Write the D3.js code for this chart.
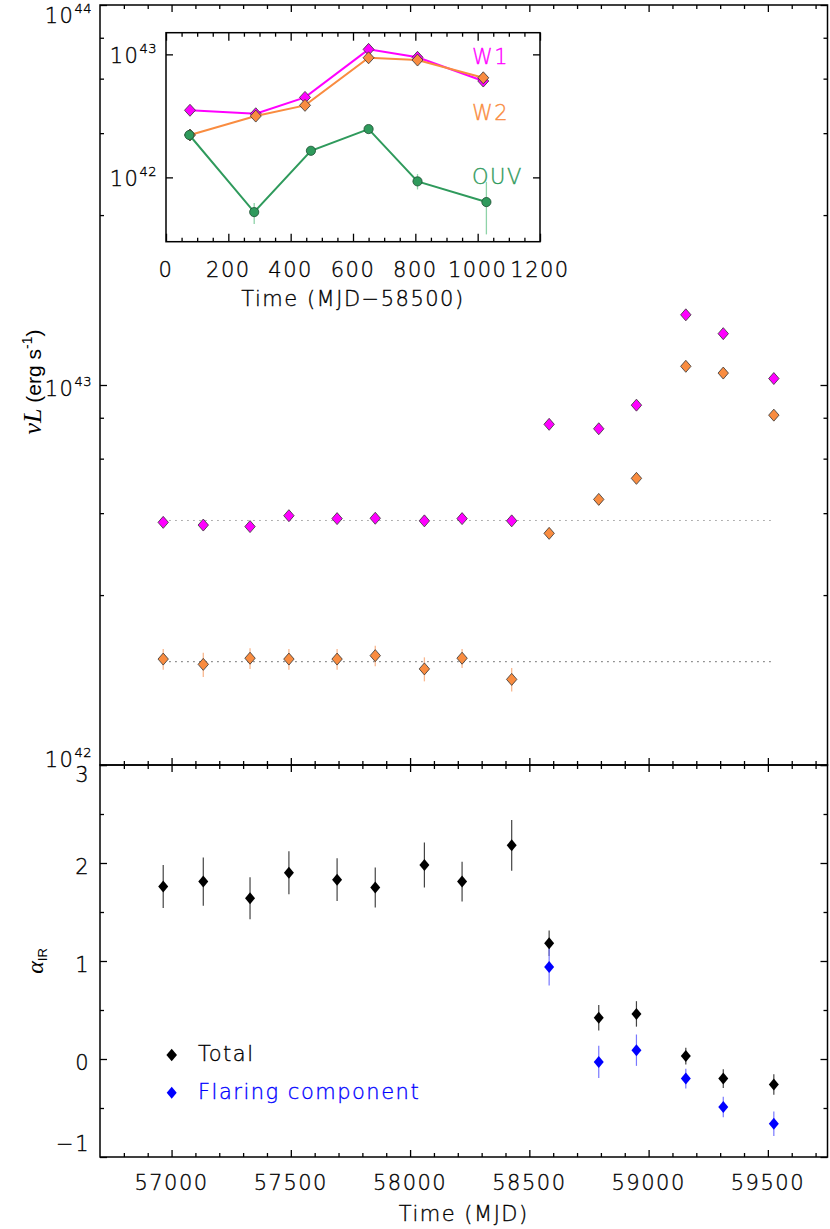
<!DOCTYPE html>
<html><head><meta charset="utf-8">
<script src="https://cdn.jsdelivr.net/npm/d3@7"></script>
<style>
body{margin:0;background:#fff;}
svg{display:block;}
text{font-family:"DejaVu Sans",sans-serif;font-weight:200;fill:#000;stroke:#000;stroke-width:0.35px;letter-spacing:1.5px;}
</style></head><body>
<svg id="chart" width="830" height="1229"></svg>
<script>
// ---------------- data ----------------
const mjd = [56965, 57133, 57329, 57492, 57694, 57854, 58060, 58218, 58426, 58583, 58791, 58949, 59156, 59313, 59525];
const w1Lum = [4.35, 4.28, 4.24, 4.53, 4.45, 4.46, 4.39, 4.45, 4.39, 7.88, 7.67, 8.85, 15.3, 13.65, 10.4];   // 1e42 erg/s
const w2Lum = [1.90, 1.84, 1.91, 1.90, 1.90, 1.94, 1.79, 1.91, 1.68, 4.07, 5.00, 5.68, 11.2, 10.75, 8.33];   // 1e42 erg/s
const w2Err = [0.12, 0.135, 0.12, 0.12, 0.12, 0.12, 0.13, 0.11, 0.12, 0, 0, 0, 0, 0, 0];
const w1Quiescent = 4.40;
const w2Quiescent = 1.87;

const alphaTotal = [1.76, 1.81, 1.64, 1.90, 1.83, 1.75, 1.98, 1.81, 2.18, 1.18, 0.42, 0.46, 0.03, -0.20, -0.26];
const alphaTotalErr = [0.22, 0.245, 0.215, 0.22, 0.218, 0.205, 0.23, 0.204, 0.26, 0.13, 0.13, 0.13, 0.085, 0.095, 0.105];
const flareMjd = [58583, 58791, 58949, 59156, 59313, 59525];
const alphaFlare = [0.94, -0.03, 0.09, -0.20, -0.49, -0.66];
const alphaFlareErr = [0.19, 0.165, 0.16, 0.10, 0.105, 0.125];

const insetT = [77, 288, 446, 650, 807, 1018];          // MJD-58500
const insetW1 = [3.51, 3.29, 4.47, 10.98, 9.46, 6.07];   // 1e42
const insetW2 = [2.21, 3.15, 3.85, 9.38, 8.99, 6.45];
const ouvT = [75, 283, 465, 650, 807, 1028];
const ouvLum = [2.21, 0.522, 1.645, 2.47, 0.928, 0.63];
const ouvErrLo = [0.03, 0.105, 0.03, 0.03, 0.13, 0.286];
const ouvErrHi = [0.03, 0.098, 0.03, 0.03, 0.136, 0.29];

const xMajor = [57000, 57500, 58000, 58500, 59000, 59500];
const alphaMajor = [-1, 0, 1, 2, 3];
const lumMajor = [1e42, 1e43, 1e44];
const insetXMajor = [0, 200, 400, 600, 800, 1000, 1200];
const insetYMajor = [1e42, 1e43];

// ---------------- style ----------------
const cW1 = "#ff00ff", cW2 = "#f98c40", cOUV = "#2f9a5c";
const cW2Err = "#f9b890", cOUVErr = "#8fd3a8";
const cBlue = "#0000ff", cBlueErr = "#7878ff";

const svg = d3.select("#chart");
const M = {x0: 100, x1: 827.5, y0: 5, y1: 765};
const B = {y0: 765, y1: 1157};
const I = {x0: 166, x1: 540, y0: 32.7, y1: 241.7};

const x = d3.scaleLinear().domain([56700, 59750]).range([M.x0, M.x1]);
const yL = d3.scaleLog().domain([1e42, 1e44]).range([M.y1, M.y0]);
const yA = d3.scaleLinear().domain([-1, 3]).range([B.y1, B.y0]);
const xi = d3.scaleLinear().domain([0, 1200]).range([I.x0, I.x1]);
const yi = d3.scaleLog().domain([3e41, 1.5e43]).range([I.y1, I.y0]);

const diamond = (w, h) => `M0,${-h}L${w},0L0,${h}L${-w},0Z`;

function ticks(axisFn, scale, values, size, tx, ty) {
  const g = svg.append("g").attr("transform", `translate(${tx},${ty})`)
    .call(axisFn(scale).tickValues(values).tickSizeInner(-size).tickSizeOuter(0).tickFormat(() => ""));
  g.select(".domain").remove();
  g.selectAll(".tick line").attr("stroke", "#000").attr("stroke-width", 1.3);
}
function range(a, b, s) { const r = []; for (let v = a; v <= b + 1e-9; v += s) r.push(+v.toFixed(6)); return r; }

const xMinor = range(56800, 59700, 100).filter(v => v % 500 !== 0);
const lumMinor = [42, 43].flatMap(e => [2.8, 4.6, 6.4, 8.2].map(m => m * Math.pow(10, e)));
const alphaMinor = [-0.5, 0.5, 1.5, 2.5];
const insetXMinor = range(50, 1150, 50).filter(v => v % 200 !== 0);

function colored(sel, c) { return sel.style("fill", c).style("stroke", c); }
function plain(sel) { return sel.style("stroke", "none").style("font-weight", "normal").style("letter-spacing", "0px"); }

// ---------------- main panel ----------------
svg.append("line").attr("x1", x(mjd[0])).attr("x2", x(mjd[mjd.length-1]))
  .attr("y1", yL(w1Quiescent*1e42)).attr("y2", yL(w1Quiescent*1e42))
  .attr("stroke", "#999").attr("stroke-width", 1).attr("stroke-dasharray", "1.5,4.5");
svg.append("line").attr("x1", x(mjd[0])).attr("x2", x(mjd[mjd.length-1]))
  .attr("y1", yL(w2Quiescent*1e42)).attr("y2", yL(w2Quiescent*1e42))
  .attr("stroke", "#555").attr("stroke-width", 1).attr("stroke-dasharray", "1.5,4.5");

svg.append("g").selectAll("line").data(mjd.map((t, i) => ({t, v: w2Lum[i], e: w2Err[i]})).filter(d => d.e > 0))
  .join("line").attr("x1", d => x(d.t)).attr("x2", d => x(d.t))
  .attr("y1", d => yL((d.v - d.e)*1e42)).attr("y2", d => yL((d.v + d.e)*1e42))
  .attr("stroke", cW2Err).attr("stroke-width", 1.3);

svg.append("g").selectAll("path").data(mjd.map((t, i) => ({t, v: w1Lum[i]})))
  .join("path").attr("d", diamond(5.2, 6)).attr("transform", d => `translate(${x(d.t)},${yL(d.v*1e42)})`)
  .attr("fill", cW1).attr("stroke", "#333").attr("stroke-width", 0.8);
svg.append("g").selectAll("path").data(mjd.map((t, i) => ({t, v: w2Lum[i]})))
  .join("path").attr("d", diamond(5.2, 6)).attr("transform", d => `translate(${x(d.t)},${yL(d.v*1e42)})`)
  .attr("fill", cW2).attr("stroke", "#333").attr("stroke-width", 0.8);

ticks(d3.axisBottom, x, xMajor, 7, 0, M.y1);
ticks(d3.axisBottom, x, xMinor, 4, 0, M.y1);
ticks(d3.axisTop, x, xMajor, 7, 0, M.y0);
ticks(d3.axisTop, x, xMinor, 4, 0, M.y0);
ticks(d3.axisLeft, yL, lumMajor, 7, M.x0, 0);
ticks(d3.axisLeft, yL, lumMinor, 4, M.x0, 0);
ticks(d3.axisRight, yL, lumMajor, 7, M.x1, 0);
ticks(d3.axisRight, yL, lumMinor, 4, M.x1, 0);
svg.append("rect").attr("x", M.x0).attr("y", M.y0).attr("width", M.x1 - M.x0).attr("height", M.y1 - M.y0)
  .attr("fill", "none").attr("stroke", "#000").attr("stroke-width", 1.5);

lumMajor.forEach(v => {
  const by = Math.max(22.5, Math.min(767, yL(v) + 11));
  const t = svg.append("text").attr("x", 92).attr("y", by).attr("text-anchor", "end").style("font-size", "21px");
  t.append("tspan").text("10");
  t.append("tspan").attr("dy", -10).style("font-size", "13px").style("letter-spacing", "0.5px").text(Math.round(Math.log10(v)));
});

{
  const t = plain(svg.append("text").attr("transform", `translate(41,382) rotate(-90)`).attr("text-anchor", "middle"));
  t.append("tspan").style("font-family", "'Liberation Serif',serif").style("font-style", "italic").style("font-size", "26px").text("νL");
  t.append("tspan").style("font-family", "'Liberation Sans',sans-serif").style("font-size", "21px").text(" (erg s");
  t.append("tspan").attr("dy", -9).style("font-family", "'Liberation Sans',sans-serif").style("font-size", "14px").text("-1");
  t.append("tspan").attr("dy", 9).style("font-family", "'Liberation Sans',sans-serif").style("font-size", "21px").text(")");
}

// ---------------- inset ----------------
svg.append("rect").attr("x", I.x0).attr("y", I.y0).attr("width", I.x1 - I.x0).attr("height", I.y1 - I.y0)
  .attr("fill", "#fff").attr("stroke", "none");
const lineI = d3.line().x(d => xi(d.t)).y(d => yi(d.v*1e42));
const w1Pts = insetT.map((t, i) => ({t, v: insetW1[i]}));
const w2Pts = insetT.map((t, i) => ({t, v: insetW2[i]}));
const ouvPts = ouvT.map((t, i) => ({t, v: ouvLum[i], lo: ouvErrLo[i], hi: ouvErrHi[i]}));

svg.append("path").datum(w1Pts).attr("d", lineI).attr("fill", "none").attr("stroke", cW1).attr("stroke-width", 2);
svg.append("g").selectAll("path").data(w1Pts).join("path").attr("d", diamond(5.5, 6))
  .attr("transform", d => `translate(${xi(d.t)},${yi(d.v*1e42)})`).attr("fill", cW1).attr("stroke", "#333").attr("stroke-width", 0.8);
svg.append("path").datum(w2Pts).attr("d", lineI).attr("fill", "none").attr("stroke", cW2).attr("stroke-width", 2);
svg.append("g").selectAll("path").data(w2Pts).join("path").attr("d", diamond(5.5, 6))
  .attr("transform", d => `translate(${xi(d.t)},${yi(d.v*1e42)})`).attr("fill", cW2).attr("stroke", "#333").attr("stroke-width", 0.8);
svg.append("g").selectAll("line").data(ouvPts).join("line")
  .attr("x1", d => xi(d.t)).attr("x2", d => xi(d.t))
  .attr("y1", d => yi((d.v - d.lo)*1e42)).attr("y2", d => yi((d.v + d.hi)*1e42))
  .attr("stroke", cOUVErr).attr("stroke-width", 1.3);
svg.append("path").datum(ouvPts).attr("d", lineI).attr("fill", "none").attr("stroke", cOUV).attr("stroke-width", 2);
svg.append("g").selectAll("circle").data(ouvPts).join("circle").attr("r", 4.6)
  .attr("cx", d => xi(d.t)).attr("cy", d => yi(d.v*1e42)).attr("fill", cOUV).attr("stroke", "#1a4d30").attr("stroke-width", 0.8);

ticks(d3.axisBottom, xi, insetXMajor, 8, 0, I.y1);
ticks(d3.axisBottom, xi, insetXMinor, 4, 0, I.y1);
ticks(d3.axisTop, xi, insetXMajor, 8, 0, I.y0);
ticks(d3.axisTop, xi, insetXMinor, 4, 0, I.y0);
ticks(d3.axisLeft, yi, insetYMajor, 7, I.x0, 0);
ticks(d3.axisRight, yi, insetYMajor, 7, I.x1, 0);
svg.append("rect").attr("x", I.x0).attr("y", I.y0).attr("width", I.x1 - I.x0).attr("height", I.y1 - I.y0)
  .attr("fill", "none").attr("stroke", "#000").attr("stroke-width", 1.5);

insetXMajor.forEach(v => {
  svg.append("text").attr("x", xi(v)).attr("y", 276.7).attr("text-anchor", "middle").style("font-size", "21px").text(v);
});
insetYMajor.forEach(v => {
  const t = svg.append("text").attr("x", 157).attr("y", yi(v) + 9).attr("text-anchor", "end").style("font-size", "21px");
  t.append("tspan").text("10");
  t.append("tspan").attr("dy", -10).style("font-size", "13px").style("letter-spacing", "0.5px").text(Math.round(Math.log10(v)));
});
svg.append("text").attr("x", (I.x0 + I.x1)/2).attr("y", 306).attr("text-anchor", "middle").style("font-size", "21px").text("Time (MJD\u221258500)");
colored(svg.append("text").attr("x", 472).attr("y", 64).style("font-size", "21px"), cW1).text("W1");
colored(svg.append("text").attr("x", 472).attr("y", 120).style("font-size", "21px"), cW2).text("W2");
colored(svg.append("text").attr("x", 472).attr("y", 184).style("font-size", "21px"), cOUV).text("OUV");

// ---------------- bottom panel ----------------
const totPts = mjd.map((t, i) => ({t, v: alphaTotal[i], e: alphaTotalErr[i]}));
const flPts = flareMjd.map((t, i) => ({t, v: alphaFlare[i], e: alphaFlareErr[i]}));
svg.append("g").selectAll("line").data(totPts).join("line")
  .attr("x1", d => x(d.t)).attr("x2", d => x(d.t)).attr("y1", d => yA(d.v - d.e)).attr("y2", d => yA(d.v + d.e))
  .attr("stroke", "#444").attr("stroke-width", 1.2);
svg.append("g").selectAll("line").data(flPts).join("line")
  .attr("x1", d => x(d.t)).attr("x2", d => x(d.t)).attr("y1", d => yA(d.v - d.e)).attr("y2", d => yA(d.v + d.e))
  .attr("stroke", cBlueErr).attr("stroke-width", 1.2);
svg.append("g").selectAll("path").data(totPts).join("path").attr("d", diamond(5, 6))
  .attr("transform", d => `translate(${x(d.t)},${yA(d.v)})`).attr("fill", "#000");
svg.append("g").selectAll("path").data(flPts).join("path").attr("d", diamond(5, 6))
  .attr("transform", d => `translate(${x(d.t)},${yA(d.v)})`).attr("fill", cBlue);

ticks(d3.axisBottom, x, xMajor, 7, 0, B.y1);
ticks(d3.axisBottom, x, xMinor, 4, 0, B.y1);
ticks(d3.axisTop, x, xMajor, 7, 0, B.y0);
ticks(d3.axisTop, x, xMinor, 4, 0, B.y0);
ticks(d3.axisLeft, yA, alphaMajor, 7, M.x0, 0);
ticks(d3.axisLeft, yA, alphaMinor, 4, M.x0, 0);
ticks(d3.axisRight, yA, alphaMajor, 7, M.x1, 0);
ticks(d3.axisRight, yA, alphaMinor, 4, M.x1, 0);
svg.append("rect").attr("x", M.x0).attr("y", B.y0).attr("width", M.x1 - M.x0).attr("height", B.y1 - B.y0)
  .attr("fill", "none").attr("stroke", "#000").attr("stroke-width", 1.5);

xMajor.forEach(v => {
  svg.append("text").attr("x", x(v)).attr("y", 1190).attr("text-anchor", "middle").style("font-size", "21px").text(v);
});
alphaMajor.forEach(v => {
  const by = Math.max(781.7, Math.min(1151, yA(v) + 10.5));
  svg.append("text").attr("x", 90).attr("y", by).attr("text-anchor", "end").style("font-size", "21px")
    .text(v < 0 ? "\u2212" + Math.abs(v) : v);
});
svg.append("text").attr("x", (M.x0 + M.x1)/2).attr("y", 1221).attr("text-anchor", "middle").style("font-size", "21px").text("Time (MJD)");
{
  const t = plain(svg.append("text").attr("transform", `translate(43,961) rotate(-90)`).attr("text-anchor", "middle"));
  t.append("tspan").style("font-family", "'Liberation Serif',serif").style("font-style", "italic").style("font-size", "24px").text("α");
  t.append("tspan").attr("dy", 4).style("font-size", "13px").style("font-family", "'Liberation Sans',sans-serif").text("IR");
}

// legend
svg.append("path").attr("d", diamond(5.3, 6.2)).attr("transform", "translate(171.7,1055)").attr("fill", "#000");
svg.append("text").attr("x", 198).attr("y", 1061).style("font-size", "21px").text("Total");
svg.append("path").attr("d", diamond(5, 6)).attr("transform", "translate(171.7,1092.7)").attr("fill", cBlue);
colored(svg.append("text").attr("x", 198).attr("y", 1099).style("font-size", "21px"), cBlue).text("Flaring component");
</script>
</body></html>
